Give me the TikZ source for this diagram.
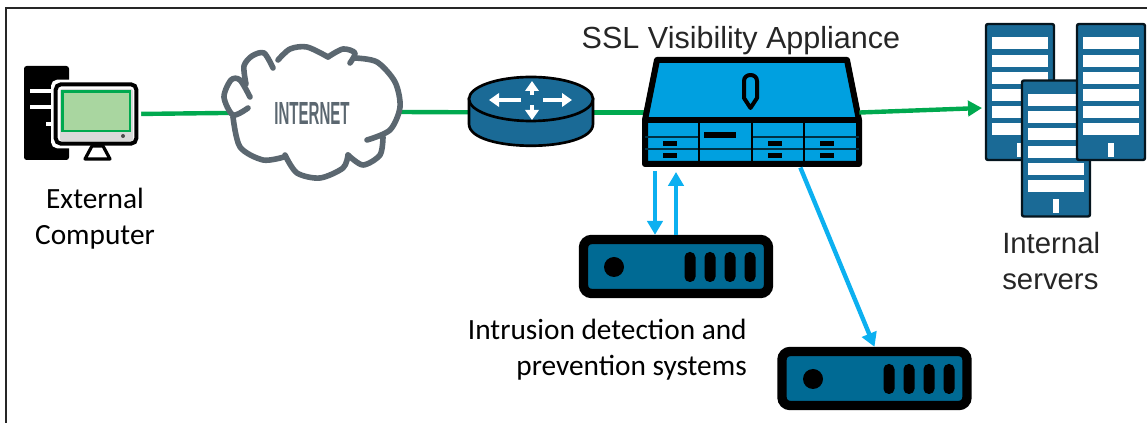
\documentclass[tikz,border=0pt]{standalone}
\usepackage{fontspec}
\setmainfont{Carlito}
\newfontfamily\arialfont{Liberation Sans}
\usetikzlibrary{positioning,shapes,arrows.meta}
\pgfdeclarelayer{bg}
\pgfsetlayers{bg,main}
\definecolor{linkgreen}{HTML}{00A94F}
\definecolor{tapblue}{HTML}{0CB0F0}
\definecolor{boxblue}{HTML}{00A0E0}
\definecolor{racknavy}{HTML}{1A6A96}
\definecolor{idsteal}{HTML}{006A94}
\definecolor{cloudgrey}{HTML}{5B6770}
\definecolor{screengreen}{HTML}{A9D6A0}

\begin{document}
\begin{tikzpicture}[
x=0.75pt, y=-0.75pt,
place/.style={inner sep=0pt, outer sep=0pt},
greenlink/.style={draw=linkgreen, line width=3.3pt},
bluelink/.style={draw=tapblue, line width=3.3pt},
greenhead/.style={-{Triangle[length=10.5pt,width=11.5pt]}},
bluehead/.style={-{Triangle[length=10.5pt,width=11.5pt]}},
routerarrow/.style={draw=white, line width=2.6pt, -{Triangle[length=7.5pt,width=10pt]}},
cloudline/.style={draw=cloudgrey, line width=4.2pt, line cap=round, line join=round},
ids/.style={rectangle, draw=black, fill=idsteal, line width=7pt, rounded corners=6pt, minimum width=138.75pt, minimum height=40.5pt, inner sep=0pt},
rack/.style={rectangle, draw=black!80!racknavy, fill=racknavy, line width=1.8pt, rounded corners=1.5pt, minimum width=51pt, minimum height=102pt, inner sep=0pt},
slot/.style={fill=black},
caption/.style={font=\fontsize{22}{27}\selectfont, inner sep=0pt},
arialcaption/.style={font=\arialfont\fontsize{22}{27}\selectfont, text=black!85, inner sep=0pt},
]
\useasboundingbox (0,0) rectangle (1147,423);

%Frame
\draw[black!85, line width=1.5pt] (6,423) -- (6,8) -- (1147,8);

%External computer
\node[rectangle, fill=black, rounded corners=2pt, minimum width=33.75pt, minimum height=70.5pt, place] (tower) at (46.5,113) {};
\draw[white, line width=3.6pt] (30,91) -- (52,91);
\draw[white, line width=3.6pt] (30,107) -- (52,107);
\draw[white, line width=3.6pt] (46,124) -- (52,124);
\node[rectangle, draw=white, line width=1.5pt, fill=white, rounded corners=4pt, minimum width=66pt, minimum height=50pt, place] (halo) at (96,114) {};
\node[rectangle, draw=black, line width=3pt, fill=white, rounded corners=4pt, minimum width=60.5pt, minimum height=44.5pt, place] (monitor) at (96,114) {};
\fill[black!15, rounded corners=1.5pt] (60,89) rectangle (133,141);
\draw[linkgreen, line width=2.2pt, fill=screengreen] (62.5,91.5) rectangle (130,131);
\fill[black!70] (123,136) circle (2);
\draw[black, line width=2.4pt, fill=white, line join=round] (92,146) -- (103,146) -- (110,159) -- (85,159) -- cycle;

%Cloud
\node[rectangle, minimum width=133.5pt, minimum height=99pt, place] (internet) [right=63pt of monitor, yshift=1.5pt] {};
\fill[white] plot[smooth cycle] coordinates {(233,115) (225,97) (238,78) (247,60) (263,53) (278,60) (292,48) (310,47) (328,57) (343,49) (357,58) (378,63) (398,87) (400,107) (390,130) (382,140) (380,157) (363,165) (348,158) (343,168) (320,178) (297,173) (285,157) (263,160) (240,147)};
\draw[cloudline] plot[smooth] coordinates {(250,97) (240,80) (231,80) (224,97) (233,115) (248,108)};
\draw[cloudline] plot[smooth] coordinates {(246,84) (244,66) (252,56) (264,53) (273,68)};
\draw[cloudline] plot[smooth] coordinates {(278,60) (290,49) (307,47) (328,57)};
\draw[cloudline] plot[smooth] coordinates {(328,57) (343,49) (355,53) (350,63)};
\draw[cloudline] plot[smooth] coordinates {(355,58) (377,62) (395,82) (400,107) (390,130) (367,140)};
\draw[cloudline] plot[smooth] coordinates {(383,137) (380,155) (363,165) (348,155)};
\draw[cloudline] plot[smooth] coordinates {(348,155) (343,168) (320,178) (297,173) (285,155)};
\draw[cloudline] plot[smooth] coordinates {(284,157) (263,160) (240,147) (233,117)};
\node[place, text=cloudgrey, font=\arialfont\bfseries\fontsize{24}{24}\selectfont] (internet_text) at (312,113) {\scalebox{0.47}[1]{INTERNET}};

%Router
\node[rectangle, minimum width=93pt, minimum height=53.25pt, place] (router) [right=51pt of internet, yshift=-0.4pt] {};
\draw[black, line width=2pt, fill=racknavy] (469,99) -- (469,124) .. controls (469,153) and (593,153) .. (593,124) -- (593,99) -- cycle;
\draw[black, line width=2pt, fill=racknavy] (531,99) ellipse (62 and 22);
\draw[routerarrow] (521,100) -- (489,100);
\draw[routerarrow] (543,100) -- (572,100);
\draw[routerarrow] (532,95) -- (532,81);
\draw[routerarrow] (532,105) -- (532,120);

%Appliance
\node[rectangle, minimum width=165pt, minimum height=82.5pt, place] (appliance) [right=36.75pt of router] {};
\draw[black, line width=4.5pt, fill=boxblue, line join=round] (657,60) -- (847,60) -- (859,120) -- (859,164) -- (645,164) -- (645,120) -- cycle;
\draw[black!70!boxblue, line width=0.8pt] (645,137) -- (699,137);
\draw[black!70!boxblue, line width=0.8pt] (752,137) -- (859,137);
\draw[black!70!boxblue, line width=0.8pt] (645,149) -- (859,149);
\draw[black, line width=4.5pt] (645,120) -- (859,120);
\foreach \dx in {699,752,804}
  \draw[black, line width=1.3pt] (\dx,122) -- (\dx,164);
\foreach \sx in {663,768,820}{
  \fill[slot] (\sx,141) rectangle +(14,5);
  \fill[slot] (\sx,153) rectangle +(14,5);
}
\fill[slot] (704,132) rectangle (736,138);
\draw[black, line width=3pt, fill=boxblue, line join=round] (744,81) .. controls (744,73) and (757,73) .. (757,81) -- (757,98) -- (750.5,108) -- (744,98) -- cycle;

%IDS boxes
\node[ids] (ids_one) at (676,266.5) {};
\node[ids] (ids_two) at (874.5,378.5) {};
\foreach \boxname/\ox/\oy in {ids_one/0/0, ids_two/199/112}{
  \fill[black] (614+\ox,267+\oy) circle (10);
  \foreach \px in {690,710,730,750}
    \fill[black, rounded corners=3.9pt] (\px-5.5+\ox,252+\oy) rectangle (\px+5.5+\ox,282+\oy);
}

%Server racks
\foreach \rackname/\rx/\ry in {rack_a/1020/92, rack_c/1056/148.5, rack_b/1111/92}{
  \node[rack] (\rackname) at (\rx,\ry) {};
  \foreach \i in {0,...,5}
    \fill[white] (\rx-28,\ry-54.5+\i*17.2) rectangle +(56,12);
  \fill[white] (\rx-3,\ry+51) rectangle +(6,14);
}

%Labels
\node[caption, align=center] (computer_label) at (95,218.5) {External\\Computer};
\node[caption, align=right, anchor=east] (ids_label) at (747,350) {Intrusion detection and\\prevention systems};
\node[arialcaption, anchor=base, font=\arialfont\fontsize{22.9}{27}\selectfont] (appliance_label) at (741,49) {SSL Visibility Appliance};
\node[arialcaption, align=left, anchor=west] (rack_label) at (1002,261) {Internal\\servers};

%Connections
\coordinate (tap_down) at (655,171);
\coordinate (tap_up) at (676,172);
\coordinate (rack_in) at (982,108);
\begin{pgfonlayer}{bg}
\draw[greenlink] (monitor.east) -- (internet.center);
\draw[greenlink] (internet.east) -- (router.center);
\draw[greenlink] (router.center) -- (appliance.center);
\end{pgfonlayer}
\draw[greenlink, greenhead] (appliance.east) -- (rack_in);
\draw[bluelink, bluehead] (tap_down) -- ([xshift=-15.75pt]ids_one.north);
\draw[bluelink, bluehead] (ids_one.north) -- (tap_up);
\draw[bluelink, bluehead] ([xshift=38.25pt]appliance.south) -- (ids_two.north);
\end{tikzpicture}
\end{document}
